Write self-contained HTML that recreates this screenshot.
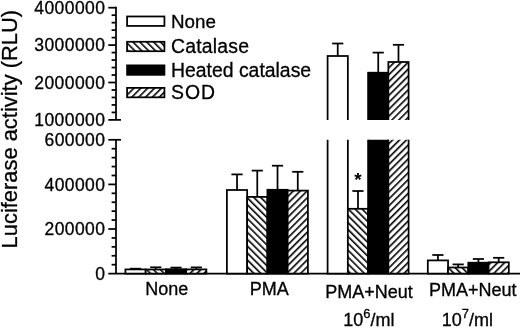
<!DOCTYPE html>
<html><head><meta charset="utf-8"><title>Luciferase activity chart</title>
<style>html,body{margin:0;padding:0;background:#fff;width:520px;height:328px;overflow:hidden}svg{display:block}</style>
</head><body>
<svg width="520" height="328" viewBox="0 0 520 328"><defs>
<pattern id="hb" patternUnits="userSpaceOnUse" width="4.88" height="4.88" patternTransform="rotate(-45)">
<rect width="4.88" height="4.88" fill="#fff"/><rect x="0" y="0" width="1.6" height="4.88" fill="#000"/></pattern>
<pattern id="hf" patternUnits="userSpaceOnUse" width="4.88" height="4.88" patternTransform="rotate(45)">
<rect width="4.88" height="4.88" fill="#fff"/><rect x="0" y="0" width="1.6" height="4.88" fill="#000"/></pattern>
<clipPath id="cu"><rect x="0" y="0" width="520" height="120"/></clipPath>
<clipPath id="cl"><rect x="0" y="139.8" width="520" height="200"/></clipPath>
</defs>
<g stroke="#000" stroke-width="1.75" fill="none"><line x1="116.0" y1="6.825" x2="116.0" y2="119.9"/><line x1="108.3" y1="119.90" x2="121.0" y2="119.90"/><line x1="111.6" y1="112.42" x2="116.0" y2="112.42"/><line x1="111.6" y1="104.94" x2="116.0" y2="104.94"/><line x1="111.6" y1="97.46" x2="116.0" y2="97.46"/><line x1="111.6" y1="89.98" x2="116.0" y2="89.98"/><line x1="108.3" y1="82.50" x2="116.0" y2="82.50"/><line x1="111.6" y1="75.02" x2="116.0" y2="75.02"/><line x1="111.6" y1="67.54" x2="116.0" y2="67.54"/><line x1="111.6" y1="60.06" x2="116.0" y2="60.06"/><line x1="111.6" y1="52.58" x2="116.0" y2="52.58"/><line x1="108.3" y1="45.10" x2="116.0" y2="45.10"/><line x1="111.6" y1="37.62" x2="116.0" y2="37.62"/><line x1="111.6" y1="30.14" x2="116.0" y2="30.14"/><line x1="111.6" y1="22.66" x2="116.0" y2="22.66"/><line x1="111.6" y1="15.18" x2="116.0" y2="15.18"/><line x1="108.3" y1="7.70" x2="116.0" y2="7.70"/><line x1="116.0" y1="139.8" x2="116.0" y2="273.6"/><line x1="111.6" y1="264.68" x2="116.0" y2="264.68"/><line x1="111.6" y1="255.76" x2="116.0" y2="255.76"/><line x1="111.6" y1="246.84" x2="116.0" y2="246.84"/><line x1="111.6" y1="237.92" x2="116.0" y2="237.92"/><line x1="108.3" y1="229.00" x2="116.0" y2="229.00"/><line x1="111.6" y1="220.08" x2="116.0" y2="220.08"/><line x1="111.6" y1="211.16" x2="116.0" y2="211.16"/><line x1="111.6" y1="202.24" x2="116.0" y2="202.24"/><line x1="111.6" y1="193.32" x2="116.0" y2="193.32"/><line x1="108.3" y1="184.40" x2="116.0" y2="184.40"/><line x1="111.6" y1="175.48" x2="116.0" y2="175.48"/><line x1="111.6" y1="166.56" x2="116.0" y2="166.56"/><line x1="111.6" y1="157.64" x2="116.0" y2="157.64"/><line x1="111.6" y1="148.72" x2="116.0" y2="148.72"/><line x1="108.3" y1="139.80" x2="121.0" y2="139.80"/><line x1="108.3" y1="273.6" x2="520" y2="273.6"/></g>
<g font-family='"Liberation Sans", Arial, Helvetica, sans-serif' font-size="17.5" letter-spacing="0.4" fill="#000" stroke="#000" stroke-width="0.3"><text x="105.3" y="13.90" text-anchor="end">4000000</text><text x="105.3" y="51.30" text-anchor="end">3000000</text><text x="105.3" y="88.70" text-anchor="end">2000000</text><text x="105.3" y="126.10" text-anchor="end">1000000</text><text x="105.3" y="146.00" text-anchor="end">600000</text><text x="105.3" y="190.60" text-anchor="end">400000</text><text x="105.3" y="235.20" text-anchor="end">200000</text><text x="105.3" y="279.80" text-anchor="end">0</text></g>
<g stroke="#000" stroke-width="1.75"><line x1="135.53" y1="268.70" x2="135.53" y2="269.40"/><line x1="129.93" y1="268.70" x2="141.12" y2="268.70"/><line x1="155.78" y1="267.30" x2="155.78" y2="269.50"/><line x1="150.18" y1="267.30" x2="161.38" y2="267.30"/><line x1="176.03" y1="267.60" x2="176.03" y2="269.20"/><line x1="170.43" y1="267.60" x2="181.62" y2="267.60"/><line x1="196.28" y1="267.40" x2="196.28" y2="269.40"/><line x1="190.68" y1="267.40" x2="201.88" y2="267.40"/><line x1="237.03" y1="174.40" x2="237.03" y2="190.00"/><line x1="231.43" y1="174.40" x2="242.62" y2="174.40"/><line x1="257.27" y1="170.60" x2="257.27" y2="196.90"/><line x1="251.67" y1="170.60" x2="262.88" y2="170.60"/><line x1="277.52" y1="165.70" x2="277.52" y2="189.80"/><line x1="271.92" y1="165.70" x2="283.12" y2="165.70"/><line x1="297.77" y1="171.80" x2="297.77" y2="190.60"/><line x1="292.17" y1="171.80" x2="303.38" y2="171.80"/><line x1="337.73" y1="43.50" x2="337.73" y2="56.00"/><line x1="332.12" y1="43.50" x2="343.33" y2="43.50"/><line x1="357.98" y1="191.00" x2="357.98" y2="208.80"/><line x1="352.38" y1="191.00" x2="363.58" y2="191.00"/><line x1="378.23" y1="52.60" x2="378.23" y2="72.70"/><line x1="372.62" y1="52.60" x2="383.83" y2="52.60"/><line x1="398.48" y1="44.80" x2="398.48" y2="62.00"/><line x1="392.88" y1="44.80" x2="404.08" y2="44.80"/><line x1="437.93" y1="255.00" x2="437.93" y2="260.40"/><line x1="432.32" y1="255.00" x2="443.53" y2="255.00"/><line x1="458.18" y1="264.40" x2="458.18" y2="267.50"/><line x1="452.57" y1="264.40" x2="463.78" y2="264.40"/><line x1="478.43" y1="259.00" x2="478.43" y2="262.70"/><line x1="472.82" y1="259.00" x2="484.03" y2="259.00"/><line x1="498.68" y1="257.80" x2="498.68" y2="262.30"/><line x1="493.07" y1="257.80" x2="504.28" y2="257.80"/></g>
<rect x="125.40" y="269.40" width="20.25" height="4.20" fill="#fff" stroke="#000" stroke-width="1.75"/><rect x="145.65" y="269.50" width="20.25" height="4.10" fill="url(#hb)" stroke="#000" stroke-width="1.75"/><rect x="165.90" y="269.20" width="20.25" height="4.40" fill="#000" stroke="#000" stroke-width="1.75"/><rect x="186.15" y="269.40" width="20.25" height="4.20" fill="url(#hf)" stroke="#000" stroke-width="1.75"/><rect x="226.90" y="190.00" width="20.25" height="83.60" fill="#fff" stroke="#000" stroke-width="1.75"/><rect x="247.15" y="196.90" width="20.25" height="76.70" fill="url(#hb)" stroke="#000" stroke-width="1.75"/><rect x="267.40" y="189.80" width="20.25" height="83.80" fill="#000" stroke="#000" stroke-width="1.75"/><rect x="287.65" y="190.60" width="20.25" height="83.00" fill="url(#hf)" stroke="#000" stroke-width="1.75"/><g clip-path="url(#cu)"><rect x="327.60" y="56.00" width="20.25" height="217.60" fill="#fff" stroke="#000" stroke-width="1.75"/></g><g clip-path="url(#cl)"><rect x="327.60" y="134.8" width="20.25" height="138.80" fill="#fff" stroke="#000" stroke-width="1.75"/></g><rect x="347.85" y="208.80" width="20.25" height="64.80" fill="url(#hb)" stroke="#000" stroke-width="1.75"/><g clip-path="url(#cu)"><rect x="368.10" y="72.70" width="20.25" height="200.90" fill="#000" stroke="#000" stroke-width="1.75"/></g><g clip-path="url(#cl)"><rect x="368.10" y="134.8" width="20.25" height="138.80" fill="#000" stroke="#000" stroke-width="1.75"/></g><g clip-path="url(#cu)"><rect x="388.35" y="62.00" width="20.25" height="211.60" fill="url(#hf)" stroke="#000" stroke-width="1.75"/></g><g clip-path="url(#cl)"><rect x="388.35" y="134.8" width="20.25" height="138.80" fill="url(#hf)" stroke="#000" stroke-width="1.75"/></g><rect x="427.80" y="260.40" width="20.25" height="13.20" fill="#fff" stroke="#000" stroke-width="1.75"/><rect x="448.05" y="267.50" width="20.25" height="6.10" fill="url(#hb)" stroke="#000" stroke-width="1.75"/><rect x="468.30" y="262.70" width="20.25" height="10.90" fill="#000" stroke="#000" stroke-width="1.75"/><rect x="488.55" y="262.30" width="20.25" height="11.30" fill="url(#hf)" stroke="#000" stroke-width="1.75"/>
<text x="358" y="185.8" font-family='"Liberation Sans", Arial, Helvetica, sans-serif' font-size="19" font-weight="bold" text-anchor="middle">*</text>
<rect x="127.075" y="16.475" width="37.35" height="9.45" fill="#fff" stroke="#000" stroke-width="1.75"/><text x="171.0" y="27.9" font-family='"Liberation Sans", Arial, Helvetica, sans-serif' font-size="18.8" letter-spacing="0" stroke="#000" stroke-width="0.3">None</text><rect x="127.075" y="41.775" width="37.35" height="9.45" fill="url(#hb)" stroke="#000" stroke-width="1.75"/><text x="171.0" y="53.0" font-family='"Liberation Sans", Arial, Helvetica, sans-serif' font-size="19.4" letter-spacing="0.2" stroke="#000" stroke-width="0.3">Catalase</text><rect x="127.075" y="65.375" width="37.35" height="9.45" fill="#000" stroke="#000" stroke-width="1.75"/><text x="171.0" y="76.9" font-family='"Liberation Sans", Arial, Helvetica, sans-serif' font-size="19.4" letter-spacing="0" stroke="#000" stroke-width="0.3">Heated catalase</text><rect x="127.075" y="87.875" width="37.35" height="9.45" fill="url(#hf)" stroke="#000" stroke-width="1.75"/><text x="171.0" y="99.4" font-family='"Liberation Sans", Arial, Helvetica, sans-serif' font-size="19.4" letter-spacing="1.0" stroke="#000" stroke-width="0.3">SOD</text>
<text transform="translate(16.5,248.4) rotate(-90)" x="0" y="0" font-family='"Liberation Sans", Arial, Helvetica, sans-serif' font-size="21.9" stroke="#000" stroke-width="0.3">Luciferase activity (RLU)</text>
<g font-family='"Liberation Sans", Arial, Helvetica, sans-serif' font-size="18" fill="#000" stroke="#000" stroke-width="0.3"><text x="166.8" y="295.2" text-anchor="middle">None</text><text x="269.2" y="295.2" text-anchor="middle">PMA</text><text x="369.1" y="298" text-anchor="middle">PMA+Neut</text><text x="368.8" y="326" text-anchor="middle">10<tspan font-size="13" dy="-8">6</tspan><tspan dy="8">/ml</tspan></text><text x="472.7" y="295.7" text-anchor="middle">PMA+Neut</text><text x="467.3" y="325.7" text-anchor="middle">10<tspan font-size="13" dy="-8">7</tspan><tspan dy="8">/ml</tspan></text></g></svg>
</body></html>
